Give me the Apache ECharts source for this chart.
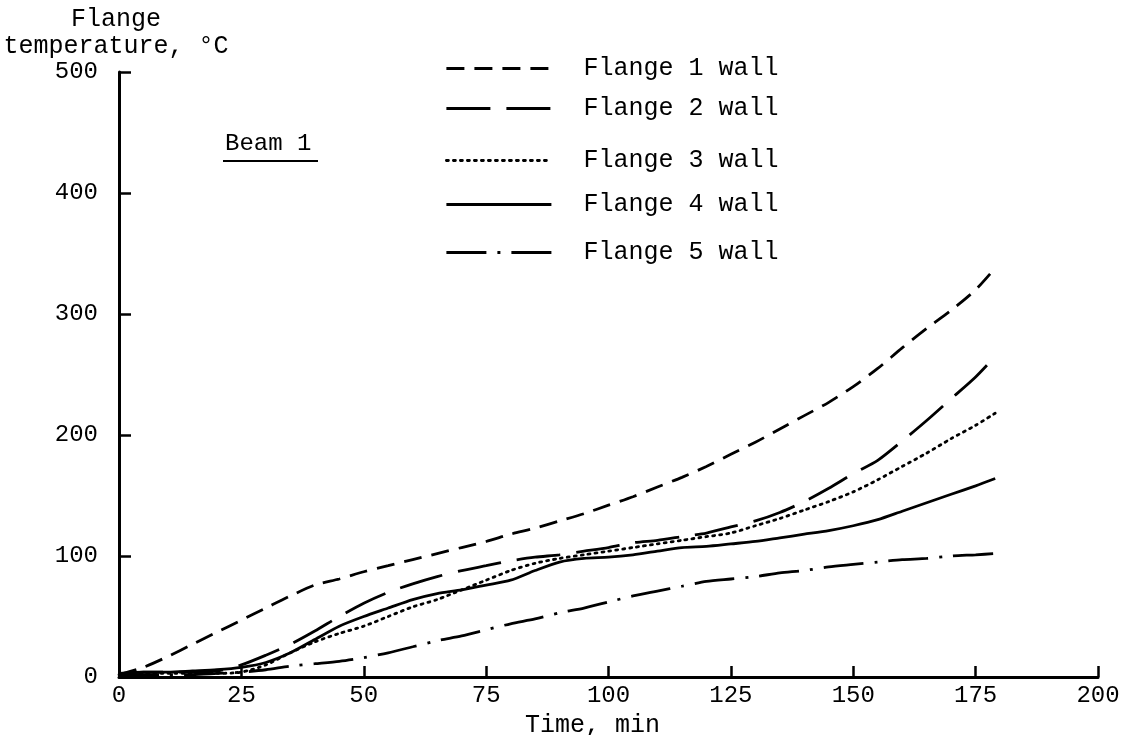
<!DOCTYPE html>
<html>
<head>
<meta charset="utf-8">
<script src="https://cdn.jsdelivr.net/npm/echarts@6/dist/echarts.min.js"></script>
<style>html,body{margin:0;padding:0;background:#fff}#c{width:1134px;height:735px}</style>
</head>
<body>
<div id="c"></div>
<script>
const time = [0,5,10,15,20,25,30,35,40,45,50,55,60,65,70,75,80,85,90,95,100,105,110,115,120,125,130,135,140,145,150,155,160,165,170,175,179];
const flange1 = [2,8,17,27,37,47,57,67,76,81,87,92,97,102,107,112,118,123,129,135,142,149,157,165,174,184,194,205,216,227,240,255,272,288,303,320,338];
const flange2 = [3,4,4,4,5,10,18,27,38,50,61,70,77,83,88,92,96,99,101,104,107,111,113,116,119,124,129,136,145,156,168,179,195,212,230,248,265];
const flange3 = [2,3,3,3,3,4,10,20,29,36,42,50,58,64,72,80,88,94,98,101,104,107,110,113,116,119,125,131,138,145,153,163,174,185,197,208,218];
const flange4 = [2,4,4,5,6,8,12,20,31,42,50,57,64,69,72,76,80,88,95,98,99,101,104,107,108,110,112,115,118,121,125,130,137,144,151,158,164];
const flange5 = [2,2,2,2,3,4,6,9,11,13,16,20,25,30,34,39,44,48,53,57,62,67,71,75,79,81,83,86,88,91,93,95,97,98,100,101,102];
const seriesNames = ['Flange 1 wall','Flange 2 wall','Flange 3 wall','Flange 4 wall','Flange 5 wall'];
const xTicks = [0,25,50,75,100,125,150,175,200];
const yTicks = [0,100,200,300,400,500];

const FONT = 'Liberation Mono';
const dashes = [[18,10],[44,16],[2,5],'solid',[40,11,3,11]];
const allData = [flange1,flange2,flange3,flange4,flange5];
const legendRows = [68,108,160,204,252];

const chart = echarts.init(document.getElementById('c'), null, {renderer:'canvas'});
const series = seriesNames.map((n,i)=>({
  name:n, type:'line', symbol:'none', smooth:0.25, color:'#000',
  data: time.map((t,j)=>[t, allData[i][j]]),
  lineStyle:{color:'#000', width:2.8, type:dashes[i], cap: i===2?'round':'butt'},
  emphasis:{disabled:true}, animation:false
}));
const legends = seriesNames.map((n,i)=>({
  data:[n], left:440, top:legendRows[i]-17, itemWidth:105, itemHeight:24,
  itemStyle:{opacity:0},
  lineStyle:{color:'#000', width:2.8, type:dashes[i], cap: i===2?'round':'butt'},
  textStyle:{fontFamily:FONT, fontSize:25, color:'#000', padding:[0,0,0,27]},
  selectedMode:false
}));
chart.setOption({
  animation:false,
  backgroundColor:'#fff',
  grid:{left:119, right:36, top:72, bottom:58, outerBoundsMode:'none', containLabel:false},
  legend: legends,
  xAxis:{type:'value', min:0, max:200, interval:25,
    axisLine:{lineStyle:{color:'#000', width:3}},
    axisTick:{inside:true, length:11, lineStyle:{color:'#000', width:2.5}},
    axisLabel:{fontFamily:FONT, fontSize:24, color:'#000', margin:7, formatter:v=>xTicks.includes(v)?String(v):''},
    splitLine:{show:false},
    name:'Time, min', nameLocation:'middle', nameGap:26,
    nameTextStyle:{fontFamily:FONT, fontSize:25, color:'#000', padding:[0,32,0,0]}
  },
  yAxis:{type:'value', min:0, max:500, interval:100,
    axisLine:{show:true, lineStyle:{color:'#000', width:3}},
    axisTick:{show:true, inside:true, length:12, lineStyle:{color:'#000', width:2.5}},
    axisLabel:{fontFamily:FONT, fontSize:24, color:'#000', margin:21, formatter:v=>yTicks.includes(v)?String(v):''},
    splitLine:{show:false},
    name:'Flange\ntemperature, °C', nameLocation:'end', nameGap:12,
    nameTextStyle:{fontFamily:FONT, fontSize:25, color:'#000', align:'center', lineHeight:27, padding:[0,0,0,-6]}
  },
  graphic:[
    {type:'text', left:225, top:132, style:{text:'Beam 1', font:'24px "Liberation Mono"', fill:'#000'}},
    {type:'line', shape:{x1:223, y1:161, x2:318, y2:161}, style:{stroke:'#000', lineWidth:2}}
  ],
  series: series
});
</script>
</body>
</html>
